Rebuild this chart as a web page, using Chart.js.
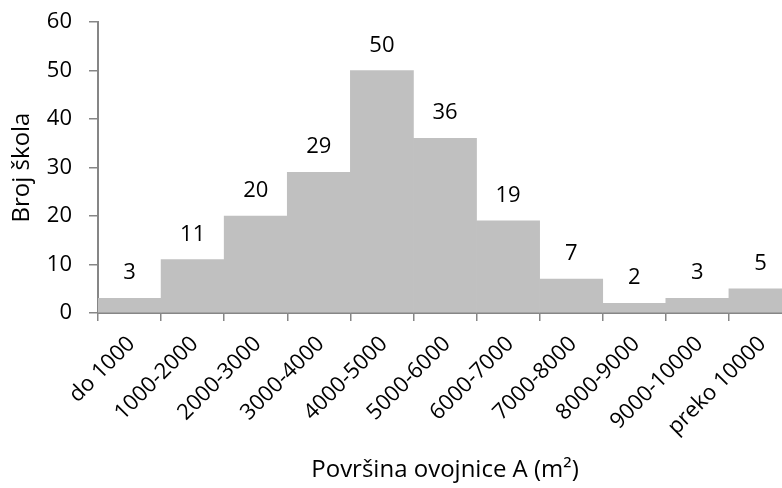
<!DOCTYPE html>
<html>
<head>
<meta charset="utf-8">
<script src="https://cdn.jsdelivr.net/npm/chart.js@4/dist/chart.umd.min.js"></script>
<style>
html,body{margin:0;padding:0;overflow:hidden;background:#fff;width:782px;height:488px;}
#wrap{width:800px;height:488px;}
</style>
</head>
<body>
<div id="wrap"><canvas id="c" width="800" height="488"></canvas></div>
<script>
const categories = ["do 1000","1000-2000","2000-3000","3000-4000","4000-5000","5000-6000","6000-7000","7000-8000","8000-9000","9000-10000","preko 10000"];
const counts = [3, 11, 20, 29, 50, 36, 19, 7, 2, 3, 5];
const yTicks = [0, 10, 20, 30, 40, 50, 60];
const xTitle = "Površina ovojnice A (m²)";
const yTitle = "Broj škola";

const FONT = "'Open Sans', 'Liberation Sans', sans-serif";
const FS = 22;   // numbers / tick labels
const TS = 24;   // axis titles
const AXIS = "#868686";

const labelPlugin = {
  id: 'barLabels',
  afterDatasetsDraw(chart) {
    const ctx = chart.ctx;
    const meta = chart.getDatasetMeta(0);
    ctx.save();
    ctx.font = FS + "px " + FONT;
    ctx.fillStyle = "#000";
    ctx.textAlign = "center";
    ctx.textBaseline = "alphabetic";
    meta.data.forEach((bar, i) => {
      ctx.fillText(String(counts[i]), bar.x, bar.y - 19);
    });
    ctx.restore();
  }
};

function noPad(scale) {
  scale.paddingTop = 0; scale.paddingBottom = 0;
  scale.paddingLeft = 0; scale.paddingRight = 0;
}

new Chart(document.getElementById('c'), {
  type: 'bar',
  data: {
    labels: categories,
    datasets: [{
      data: counts,
      backgroundColor: '#c0c0c0',
      borderWidth: 0,
      categoryPercentage: 1.0,
      barPercentage: 1.0
    }]
  },
  options: {
    responsive: false,
    animation: false,
    devicePixelRatio: 1,
    layout: { padding: { top: 22, right: 8, left: 0, bottom: 0 } },
    plugins: { legend: { display: false }, tooltip: { enabled: false } },
    scales: {
      x: {
        grid: { display: true, drawOnChartArea: false, offset: true, color: AXIS, tickLength: 8, lineWidth: 1.5 },
        border: { display: true, color: AXIS, width: 2 },
        ticks: { color: '#000', font: { size: FS, family: FONT }, minRotation: 45, maxRotation: 45, padding: 10, labelOffset: 2, autoSkip: false },
        title: { display: true, text: xTitle, color: '#000', font: { size: TS, family: FONT }, padding: { top: 10, bottom: 3 } },
        afterFit(scale) { scale.height = 488 - 313; noPad(scale); }
      },
      y: {
        min: 0, max: 60,
        afterBuildTicks(scale) { scale.ticks = yTicks.map(v => ({ value: v })); },
        grid: { display: true, drawOnChartArea: false, color: AXIS, tickLength: 9, lineWidth: 1.5 },
        border: { display: true, color: AXIS, width: 2 },
        ticks: { color: '#000', font: { size: FS, family: FONT }, padding: 17 },
        title: { display: true, text: yTitle, color: '#000', font: { size: TS, family: FONT }, padding: { top: 8, bottom: 4 } },
        afterFit(scale) { scale.width = 98; noPad(scale); }
      }
    }
  },
  plugins: [labelPlugin]
});
</script>
</body>
</html>
